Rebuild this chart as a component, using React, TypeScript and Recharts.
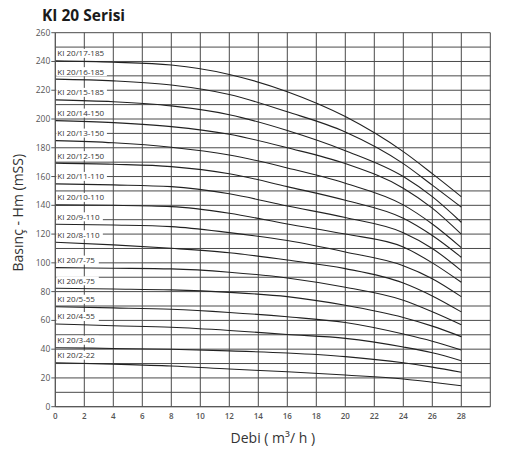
import { CartesianGrid, Line, LineChart, ReferenceDot, XAxis, YAxis } from "recharts";

// debi (m3/h) at which each curve was read
const flows = [0, 4, 8, 12, 16, 20, 24, 26, 28];

const models = [
  "KI 20/17-185",
  "KI 20/16-185",
  "KI 20/15-185",
  "KI 20/14-150",
  "KI 20/13-150",
  "KI 20/12-150",
  "KI 20/11-110",
  "KI 20/10-110",
  "KI 20/9-110",
  "KI 20/8-110",
  "KI 20/7-75",
  "KI 20/6-75",
  "KI 20/5-55",
  "KI 20/4-55",
  "KI 20/3-40",
  "KI 20/2-22",
];

// basinç (mSS) per model, same order as models
const head17 = [240.4, 239.5, 237.5, 231, 219, 201.7, 177.3, 162, 146];
const head16 = [227.7, 226.5, 223.6, 217, 205, 191, 169, 154, 138.7];
const head15 = [213.3, 212, 209.1, 203, 192, 178, 160, 146, 128.2];
const head14 = [198.9, 197.5, 194.7, 189.4, 180, 169, 151.9, 138, 119.9];
const head13 = [185, 183.5, 180.4, 175, 166, 155.3, 140.3, 127, 110.6];
const head12 = [169.3, 168.5, 166.9, 162, 153, 143.5, 131, 119, 103.9];
const head11 = [154.9, 154.2, 153, 148, 139.5, 131.5, 121, 110, 94.6];
const head10 = [140.3, 140, 139.1, 134.5, 127, 120, 111, 100, 86.5];
const head9 = [126.8, 126.3, 125.2, 121, 115.5, 107.5, 98, 89, 76.5];
const head8 = [114.3, 112.5, 110.1, 107, 102, 96, 86, 77, 65.9];
const head7 = [96.7, 96.3, 95.8, 93.5, 89.5, 83, 74, 66, 57];
const head6 = [82.3, 81.8, 81.2, 79.5, 76.5, 70.5, 62, 56, 48.7];
const head5 = [69.5, 68.7, 67.7, 65.5, 62.5, 58.5, 50.5, 45.5, 39.4];
const head4 = [57.5, 56.3, 55.2, 53, 50.2, 47.5, 41.5, 37.5, 32];
const head3 = [41, 40.5, 39.9, 38.8, 37.3, 34.8, 30.5, 27.5, 23.9];
const head2 = [30.6, 29.6, 28.3, 26.2, 24.3, 22, 19.3, 17, 14.6];

const heads = [
  head17, head16, head15, head14, head13, head12, head11, head10,
  head9, head8, head7, head6, head5, head4, head3, head2,
];

const xTicks = [0, 2, 4, 6, 8, 10, 12, 14, 16, 18, 20, 22, 24, 26, 28, 30];
const yTicks = [
  0, 10, 20, 30, 40, 50, 60, 70, 80, 90, 100, 110, 120, 130,
  140, 150, 160, 170, 180, 190, 200, 210, 220, 230, 240, 250, 260,
];

const data = flows.map((q, i) => {
  const row: Record<string, number> = { q };
  heads.forEach((h, k) => {
    row[`h${k}`] = h[i];
  });
  return row;
});

const FONT = "'Open Sans', sans-serif";

function YTick(props: any) {
  const { x, y, payload } = props;
  if (payload.value % 20 !== 0) return null;
  return (
    <g>
      <line x1={x + 1} x2={x + 5} y1={y} y2={y} stroke="#555" />
      <text
        x={x}
        y={y}
        dy={3}
        textAnchor="end"
        fontSize={8.5}
        fill="#555"
        fontFamily={FONT}
      >
        {payload.value}
      </text>
    </g>
  );
}

function XTick(props: any) {
  const { x, y, payload } = props;
  if (payload.value === 30) return null;
  return (
    <text
      x={x}
      y={y + 5}
      textAnchor="middle"
      fontSize={8}
      fontWeight={600}
      fill="#555"
      fontFamily={FONT}
    >
      {payload.value}
    </text>
  );
}

function ModelLabel(text: string) {
  return (props: any) => {
    const { cx, cy } = props;
    const w = text.length * 4.05 + 2;
    return (
      <g>
        <rect x={cx + 1} y={cy - 12} width={w} height={9} fill="#fff" />
        <text
          x={cx + 2}
          y={cy - 4.5}
          fontSize={8}
          fill="#333"
          fontFamily={FONT}
        >
          {text}
        </text>
      </g>
    );
  };
}

export default function App() {
  return (
    <div
      style={{
        position: "absolute",
        left: 0,
        top: 0,
        width: 515,
        height: 459,
        background: "#fff",
      }}
    >
      <div
        style={{
          position: "absolute",
          left: 42,
          top: 4,
          fontFamily: FONT,
          fontWeight: 700,
          fontSize: 15.5,
          color: "#1a1a1a",
        }}
      >
        KI 20 Serisi
      </div>
      <LineChart
        width={515}
        height={459}
        data={data}
        margin={{ top: 32.7, right: 24.7, bottom: 22.3, left: 15.3 }}
      >
        <CartesianGrid stroke="#4a4a4a" strokeWidth={1} />
        <XAxis
          dataKey="q"
          type="number"
          domain={[0, 30]}
          ticks={xTicks}
          interval={0}
          height={30}
          tickLine={false}
          tickSize={4}
          tickMargin={3}
          axisLine={{ stroke: "#555" }}
          tick={<XTick />}
          label={{
            content: (p: any) => {
              const vb = p.viewBox;
              return (
                <text
                  x={vb.x + vb.width / 2}
                  y={vb.y + 36}
                  textAnchor="middle"
                  fontSize={14}
                  fill="#333"
                  fontFamily={FONT}
                >
                  Debi ( m³/ h )
                </text>
              );
            },
          }}
        />
        <YAxis
          type="number"
          domain={[0, 260]}
          ticks={yTicks}
          interval={0}
          width={40}
          tickLine={false}
          tickSize={4}
          tickMargin={1}
          axisLine={{ stroke: "#555" }}
          tick={<YTick />}
          label={{
            content: (p: any) => {
              const vb = p.viewBox;
              const cx = vb.x + 2;
              const cy = vb.y + vb.height / 2 - 7;
              return (
                <text
                  x={cx}
                  y={cy}
                  transform={`rotate(-90 ${cx} ${cy})`}
                  textAnchor="middle"
                  dominantBaseline="central"
                  fontSize={14}
                  fill="#333"
                  fontFamily={FONT}
                >
                  Basınç - Hm (mSS)
                </text>
              );
            },
          }}
        />
        {heads.map((_, k) => (
          <Line
            key={k}
            dataKey={`h${k}`}
            type="monotone"
            stroke="#222"
            strokeWidth={1.1}
            dot={false}
            activeDot={false}
            isAnimationActive={false}
          />
        ))}
        {models.map((m, k) => (
          <ReferenceDot
            key={m}
            x={flows[0]}
            y={heads[k][0]}
            r={0}
            shape={ModelLabel(m)}
          />
        ))}
      </LineChart>
    </div>
  );
}
